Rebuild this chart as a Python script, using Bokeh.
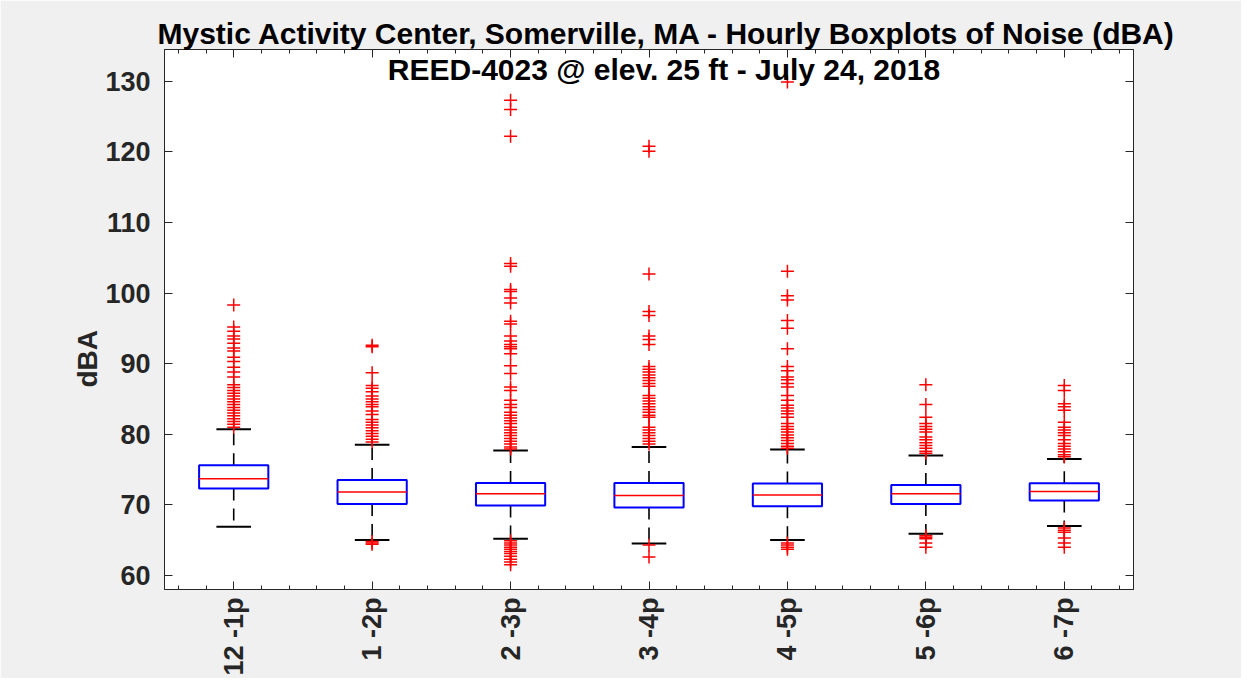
from bokeh.plotting import figure
from bokeh.models import FixedTicker, LinearAxis, Label, Title, ColumnDataSource, Range1d
from bokeh.embed import file_html
from bokeh.resources import INLINE

# ---------------- data ----------------
hours = ["12 -1p", "1 -2p", "2 -3p", "3 -4p", "4 -5p", "5 -6p", "6 -7p"]
q1 = [72.3, 70.1, 69.9, 69.6, 69.8, 70.1, 70.6]
median = [73.7, 71.8, 71.55, 71.3, 71.4, 71.55, 71.9]
q3 = [75.6, 73.5, 73.1, 73.1, 73.0, 72.8, 73.05]
whisker_low = [66.9, 65.0, 65.2, 64.5, 65.0, 65.9, 67.0]
whisker_high = [80.7, 78.5, 77.7, 78.2, 77.85, 77.0, 76.5]

out_12_1p = [98.3, 95.2, 94.6, 93.9, 93.5, 92.9, 92.2, 91.8, 90.9, 90.3, 89.5,
             88.8, 88.1, 87.0, 86.6, 86.2, 85.8, 85.4, 85.0, 84.6, 84.2, 83.8,
             83.4, 83.0, 82.6, 82.2, 81.8, 81.4, 81.0]
out_1_2p = [92.6, 92.4, 88.7, 86.9, 86.5, 86.0, 85.4, 85.0, 84.6, 84.2, 83.9,
            83.3, 82.8, 82.1, 81.7, 81.3, 80.9, 80.5, 80.1, 79.7, 79.3, 78.9,
            64.8, 64.6, 64.4]
out_2_3p = [127.3, 126.0, 122.2, 104.2, 103.8, 100.5, 100.2, 99.3, 98.6, 96.0,
            95.6, 93.9, 93.2, 92.7, 92.4, 92.1, 91.4, 89.7, 88.6, 86.7, 86.2,
            84.8, 84.2, 83.8, 83.1, 82.7, 82.3, 81.9, 81.5, 81.0, 80.6, 80.2,
            79.8, 79.4, 79.0, 78.6, 78.2, 77.9,
            64.9, 64.6, 64.3, 64.0, 63.7, 63.4, 63.1, 62.7, 62.3, 61.9, 61.5]
out_3_4p = [120.8, 120.1, 102.7, 97.4, 96.8, 93.9, 93.4, 92.7, 89.6, 89.2, 88.8,
            88.4, 88.0, 87.6, 87.2, 86.8, 85.5, 85.1, 84.7, 84.3, 83.9, 83.5,
            83.1, 82.7, 82.4, 81.0, 80.6, 80.2, 79.8, 79.4, 79.0, 78.6,
            64.3, 62.6]
out_4_5p = [129.9, 103.1, 99.6, 99.0, 96.1, 95.0, 92.1, 89.6, 89.0, 88.1, 87.7,
            87.2, 86.7, 85.5, 84.8, 84.1, 83.7, 83.3, 82.9, 82.4, 81.5, 81.1,
            80.7, 80.3, 79.9, 79.5, 79.1, 78.7, 78.3, 78.0,
            64.6, 64.3, 64.0, 63.7]
out_5_6p = [87.0, 84.2, 82.4, 81.5, 81.1, 80.7, 80.3, 79.6, 79.2, 78.8, 78.4,
            78.0, 77.6, 77.3,
            65.6, 65.4, 65.2, 64.6, 64.0]
out_6_7p = [86.9, 86.2, 84.3, 83.9, 83.4, 81.7, 81.0, 80.6, 80.2, 79.8, 79.2,
            78.7, 78.3, 77.9, 77.5, 77.1, 76.8,
            66.7, 66.4, 66.1, 65.3, 64.6, 64.0]
outliers = [out_12_1p, out_1_2p, out_2_3p, out_3_4p, out_4_5p, out_5_6p, out_6_7p]

title_line1 = "Mystic Activity Center, Somerville, MA - Hourly Boxplots of Noise (dBA)"
title_line2 = "REED-4023 @ elev. 25 ft - July 24, 2018"
y_label = "dBA"
y_ticks = [60, 70, 80, 90, 100, 110, 120, 130]

# ---------------- styling ----------------
FONT = "Liberation Sans"
AX = "#262626"
BOX_W = 0.5
CAP_W = 0.25

positions = list(range(1, len(hours) + 1))
minor_x = [c + d for c in positions for d in (-0.4, -0.2, 0.2, 0.4)]

box_src = ColumnDataSource(dict(
    x=positions,
    left=[c - BOX_W / 2 for c in positions],
    right=[c + BOX_W / 2 for c in positions],
    cl=[c - CAP_W / 2 for c in positions],
    cr=[c + CAP_W / 2 for c in positions],
    q1=q1, med=median, q3=q3, lo=whisker_low, hi=whisker_high,
))

ox, oy = [], []
for c, vals in zip(positions, outliers):
    ox += [c] * len(vals)
    oy += vals
out_src = ColumnDataSource(dict(x=ox, y=oy))

p = figure(width=1241, height=678,
           x_range=Range1d(0.5, 7.5), y_range=Range1d(58, 134.5),
           output_backend="svg", toolbar_location=None,
           min_border_left=164, min_border_right=108,
           min_border_top=49, min_border_bottom=80,
           background_fill_color="white", border_fill_color="#f0f0f0",
           outline_line_color=AX, outline_line_width=1)
p.xgrid.visible = False
p.ygrid.visible = False

# title line 1 (above the frame)
p.title.text = title_line1
p.title.text_font = FONT
p.title.text_font_size = "30px"
p.title.text_font_style = "bold"
p.title.text_color = "black"
p.title.align = "left"
p.title.offset = -7
p.title.standoff = 0

xt = FixedTicker(ticks=positions, minor_ticks=minor_x)
yt = FixedTicker(ticks=y_ticks, minor_ticks=[])


def style_axis(ax, labels=True):
    ax.axis_line_color = AX
    ax.major_tick_line_color = AX
    ax.minor_tick_line_color = AX
    ax.major_tick_in = 8
    ax.major_tick_out = 0
    ax.minor_tick_in = 4
    ax.minor_tick_out = 0
    ax.major_label_text_font = FONT
    ax.major_label_text_font_style = "bold"
    if labels:
        ax.major_label_text_font_size = "27px"
        ax.major_label_text_color = AX
    else:
        ax.major_label_text_font_size = "1px"
        ax.major_label_text_color = None
        ax.major_label_standoff = 0


xa = p.xaxis[0]
xa.ticker = xt
style_axis(xa)
xa.major_label_overrides = {c: h for c, h in zip(positions, hours)}
xa.major_label_orientation = 1.5707963
xa.major_label_standoff = 8

ya = p.yaxis[0]
ya.ticker = yt
style_axis(ya)
ya.major_label_standoff = 14

top = LinearAxis(ticker=xt)
style_axis(top, labels=False)
p.add_layout(top, "above")
right = LinearAxis(ticker=yt)
style_axis(right, labels=False)
p.add_layout(right, "right")

# y-axis label as a side title, so it can sit below the frame's middle
p.add_layout(Title(text=y_label, align="left", offset=202, standoff=0,
                   text_font=FONT, text_font_size="28px",
                   text_font_style="bold", text_color=AX), "left")

# whiskers (dashed) and caps
p.segment(x0="x", y0="q3", x1="x", y1="hi", source=box_src,
          line_color="black", line_width=1.6, line_dash="12 8")
p.segment(x0="x", y0="q1", x1="x", y1="lo", source=box_src,
          line_color="black", line_width=1.6, line_dash="12 8")
p.segment(x0="cl", y0="hi", x1="cr", y1="hi", source=box_src,
          line_color="black", line_width=2)
p.segment(x0="cl", y0="lo", x1="cr", y1="lo", source=box_src,
          line_color="black", line_width=2)
# boxes
p.quad(left="left", right="right", bottom="q1", top="q3", source=box_src,
       fill_alpha=0, line_color="#0000ff", line_width=2)
# medians
p.segment(x0="left", y0="med", x1="right", y1="med", source=box_src,
          line_color="#ff0000", line_width=1.5)
# outliers
p.scatter(x="x", y="y", source=out_src, marker="cross", size=13,
          line_color="#ff0000", line_width=1.5)

# title line 2 (inside the frame)
p.add_layout(Label(x=4.108, y=131.6, text=title_line2, text_align="center",
                   text_baseline="alphabetic", text_font=FONT,
                   text_font_size="30px", text_font_style="bold",
                   text_color="black"))

open("out.html", "w").write(file_html(p, INLINE))
